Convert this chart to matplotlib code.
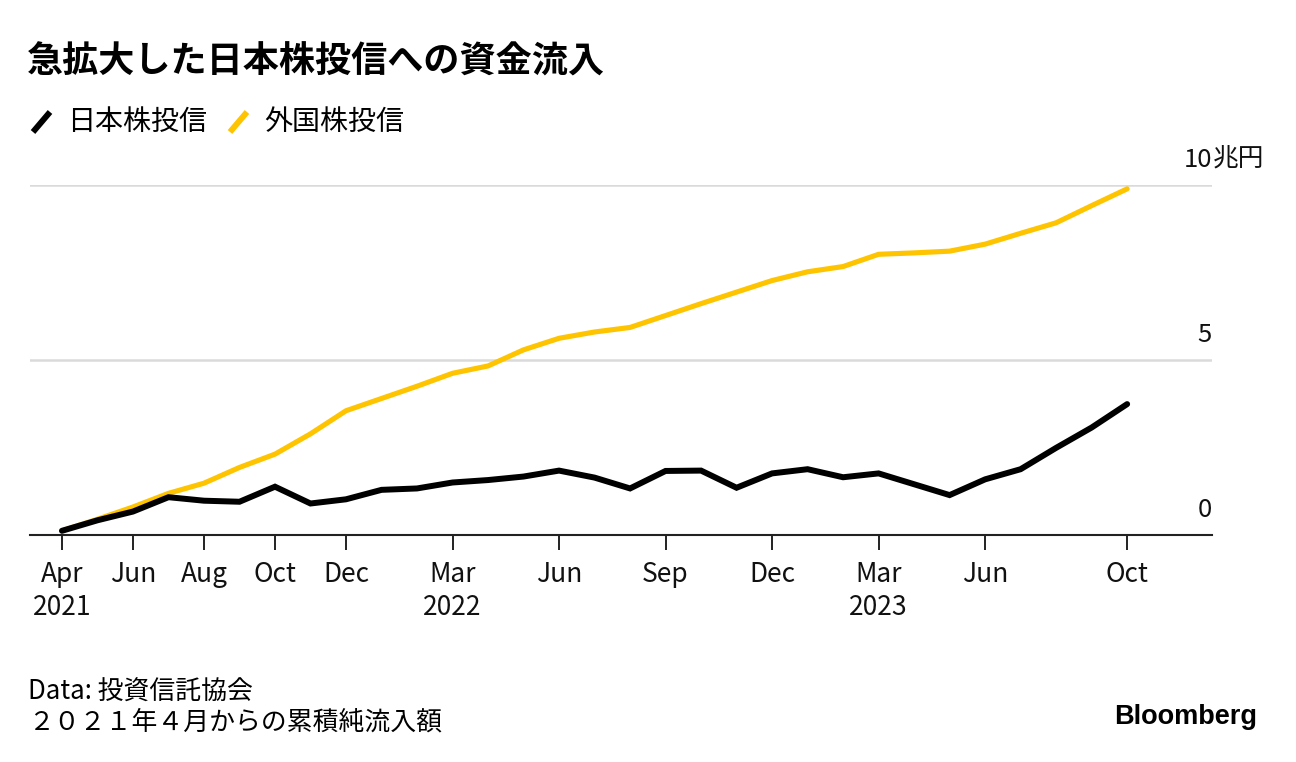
import matplotlib
matplotlib.use("Agg")
import matplotlib.pyplot as plt
import matplotlib.transforms as mtransforms
from matplotlib.lines import Line2D

plt.rcParams['font.family'] = ['Noto Sans CJK JP', 'DejaVu Sans']

# --- data (trillion yen, cumulative net inflow since Apr 2021) ---
months = ["2021-04", "2021-05", "2021-06", "2021-07", "2021-08", "2021-09", "2021-10",
          "2021-11", "2021-12", "2022-01", "2022-02", "2022-03", "2022-04", "2022-05",
          "2022-06", "2022-07", "2022-08", "2022-09", "2022-10", "2022-11", "2022-12",
          "2023-01", "2023-02", "2023-03", "2023-04", "2023-05", "2023-06", "2023-07",
          "2023-08", "2023-09", "2023-10"]
japan = [0.12, 0.42, 0.67, 1.08, 0.98, 0.95, 1.38, 0.90, 1.02, 1.29, 1.33, 1.50,
         1.57, 1.67, 1.84, 1.64, 1.33, 1.83, 1.84, 1.35, 1.76, 1.88, 1.65, 1.76,
         1.45, 1.14, 1.59, 1.88, 2.49, 3.07, 3.74]
foreign = [0.12, 0.45, 0.80, 1.19, 1.48, 1.93, 2.31, 2.89, 3.55, 3.90, 4.25, 4.62,
           4.83, 5.29, 5.62, 5.80, 5.93, 6.27, 6.61, 6.94, 7.27, 7.52, 7.67, 8.02,
           8.06, 8.11, 8.31, 8.62, 8.92, 9.41, 9.89]
tick_months = ["2021-04", "2021-06", "2021-08", "2021-10", "2021-12", "2022-03",
               "2022-06", "2022-09", "2022-12", "2023-03", "2023-06", "2023-10"]
tick_labels = ["Apr\n2021", "Jun", "Aug", "Oct", "Dec", "Mar\n2022", "Jun", "Sep",
               "Dec", "Mar\n2023", "Jun", "Oct"]
y_ticks = [0, 5, 10]
y_labels = ["0", "5", "10"]
series_names = ["日本株投信", "外国株投信"]
title = "急拡大した日本株投信への資金流入"
source = "Data: 投資信託協会"
note = "２０２１年４月からの累積純流入額"

BLACK = "#000000"
YELLOW = "#FFC400"
GRID = "#DADADA"

W, H = 1296, 762
fig = plt.figure(figsize=(W / 100, H / 100), dpi=100)
fig.patch.set_facecolor("white")

def fx(px):
    return px / W

def fy(py):
    return 1 - py / H

ax = fig.add_axes([fx(30), fy(535), fx(1212) - fx(30), fy(185) - fy(535)])

x = list(range(len(months)))
ax.plot(x, foreign, color=YELLOW, lw=3.7, solid_capstyle="round",
        solid_joinstyle="miter", clip_on=False, zorder=3)
ax.plot(x, japan, color=BLACK, lw=4.3, solid_capstyle="round",
        solid_joinstyle="miter", clip_on=False, zorder=4)

ax.set_xlim(-0.9, 32.39)
ax.set_ylim(0, 10)

for s in ["top", "right", "left"]:
    ax.spines[s].set_visible(False)
ax.spines["bottom"].set_color("#222222")
ax.spines["bottom"].set_linewidth(1.5)
ax.spines["bottom"].set_zorder(2)

ax.set_yticks(y_ticks)
ax.tick_params(axis="y", left=False, labelleft=False)
ax.grid(axis="y", color=GRID, lw=1.8, zorder=0)
ax.set_axisbelow(True)

tick_pos = [months.index(m) for m in tick_months]
ax.set_xticks(tick_pos)
ax.set_xticklabels(tick_labels, fontsize=19, color="#111111", linespacing=1.28)
ax.tick_params(axis="x", length=10.5, width=1.4, color="#222222", pad=8)

# y labels on right above gridlines
trans = mtransforms.blended_transform_factory(ax.transAxes, ax.transData)
off = mtransforms.offset_copy(trans, fig=fig, x=0, y=25, units="dots")
for yv, lab in zip(y_ticks, y_labels):
    ax.text(1.0, yv, lab, transform=off, ha="right", va="center",
            fontsize=18.5, color="#111111")
ax.text(1.0, y_ticks[-1], "兆円", transform=mtransforms.offset_copy(
        trans, fig=fig, x=1, y=25, units="dots"),
        ha="left", va="center", fontsize=18.5, color="#111111")

# title
fig.text(fx(27), fy(62), title, fontsize=26, fontweight="bold", ha="left",
         va="center", color="#000000")

# legend
fig.add_artist(Line2D([fx(33), fx(50)], [fy(132), fy(112)], color=BLACK, lw=4.3,
                      solid_capstyle="butt"))
fig.text(fx(67), fy(122), series_names[0], fontsize=20.2, ha="left", va="center")
fig.add_artist(Line2D([fx(230), fx(247)], [fy(132), fy(112)], color=YELLOW, lw=4.3,
                      solid_capstyle="butt"))
fig.text(fx(264), fy(122), series_names[1], fontsize=20.2, ha="left", va="center")

# footer
fig.text(fx(28), fy(692), source, fontsize=18.6, ha="left", va="center")
fig.text(fx(28), fy(722), note, fontsize=18.6, ha="left", va="center")
fig.text(fx(1257), fy(717), "Bloomberg", fontsize=19.5, fontweight="bold",
         ha="right", va="center", family=["Liberation Sans", "DejaVu Sans"])

fig.savefig("out.png", dpi=100, facecolor="white")
